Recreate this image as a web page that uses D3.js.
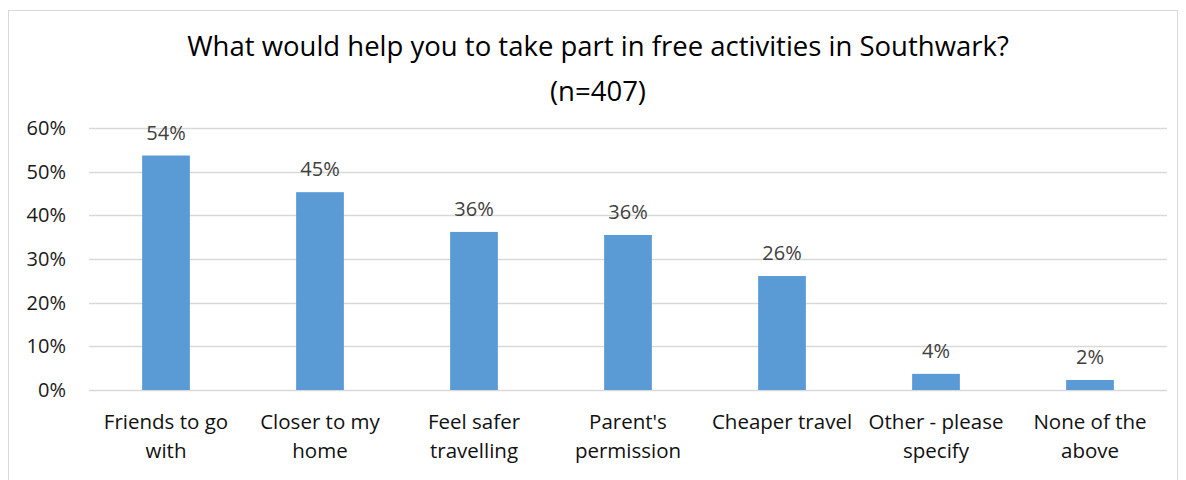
<!DOCTYPE html>
<html>
<head>
<meta charset="utf-8">
<script src="https://cdn.jsdelivr.net/npm/d3@7"></script>
<style>
	body { margin: 0; background: #fff; }
	text { font-family: "Open Sans", "Noto Sans", sans-serif; }
</style>
</head>
<body>
<svg id="chart" width="1186" height="480"></svg>
<script>
const categories = [
	["Friends to go", "with"],
	["Closer to my", "home"],
	["Feel safer", "travelling"],
	["Parent's", "permission"],
	["Cheaper travel"],
	["Other - please", "specify"],
	["None of the", "above"],
];
const values = [0.537, 0.453, 0.362, 0.355, 0.261, 0.037, 0.023];
const labels = ["54%", "45%", "36%", "36%", "26%", "4%", "2%"];
const yTicks = [0, 0.1, 0.2, 0.3, 0.4, 0.5, 0.6];

const svg = d3.select("#chart");

// chart frame
svg.append("rect")
	.attr("x", 8.5).attr("y", 10.5)
	.attr("width", 1169).attr("height", 480)
	.attr("fill", "#fff").attr("stroke", "#d9d9d9");

const plotLeft = 89, plotRight = 1167, plotTop = 128, plotBottom = 390;

const x = d3.scaleBand()
	.domain(categories.map((d, i) => i))
	.range([plotLeft, plotRight])
	.paddingInner(0.69)
	.paddingOuter(0.345);
const y = d3.scaleLinear().domain([0, 0.6]).range([plotBottom, plotTop]);

// gridlines
svg.append("g")
	.selectAll("line")
	.data(yTicks)
	.join("line")
	.attr("x1", plotLeft).attr("x2", plotRight)
	.attr("y1", (d) => Math.round(y(d)) + 0.5)
	.attr("y2", (d) => Math.round(y(d)) + 0.5)
	.attr("stroke", "#d9d9d9")
	.attr("stroke-width", 1.3);

// y axis labels
const yAxis = svg.append("g")
	.attr("transform", `translate(${plotLeft - 23},0)`)
	.call(d3.axisLeft(y).tickValues(yTicks).tickFormat(d3.format(".0%")).tickSize(0).tickPadding(0));
yAxis.select(".domain").remove();
yAxis.selectAll("text")
	.attr("font-size", 20)
	.attr("fill", "#1a1a1a")
	.style("font-family", "'Open Sans', 'Noto Sans', sans-serif");

// bars
svg.append("g")
	.selectAll("rect")
	.data(values)
	.join("rect")
	.attr("x", (d, i) => x(i))
	.attr("y", (d) => y(d))
	.attr("width", x.bandwidth())
	.attr("height", (d) => y(0) - y(d))
	.attr("fill", "#5b9bd5");

// data labels
svg.append("g")
	.selectAll("text")
	.data(values)
	.join("text")
	.attr("x", (d, i) => x(i) + x.bandwidth() / 2)
	.attr("y", (d) => y(d) - 16)
	.attr("text-anchor", "middle")
	.attr("font-size", 20)
	.attr("fill", "#404040")
	.text((d, i) => labels[i]);

// category labels
const cat = svg.append("g")
	.selectAll("text")
	.data(categories)
	.join("text")
	.attr("x", (d, i) => x(i) + x.bandwidth() / 2)
	.attr("y", 429)
	.attr("text-anchor", "middle")
	.attr("font-size", 20.5)
	.attr("fill", "#111");
cat.selectAll("tspan")
	.data((d) => d)
	.join("tspan")
	.attr("x", function () { return this.parentNode.getAttribute("x"); })
	.attr("dy", (d, i) => (i === 0 ? 0 : 29))
	.text((d) => d);

// title
const title = svg.append("text")
	.attr("text-anchor", "middle")
	.attr("font-size", 27.5)
	.attr("fill", "#000");
title.append("tspan").attr("x", 598).attr("y", 56)
	.text("What would help you to take part in free activities in Southwark?");
title.append("tspan").attr("x", 598).attr("y", 101).text("(n=407)");
</script>
</body>
</html>
